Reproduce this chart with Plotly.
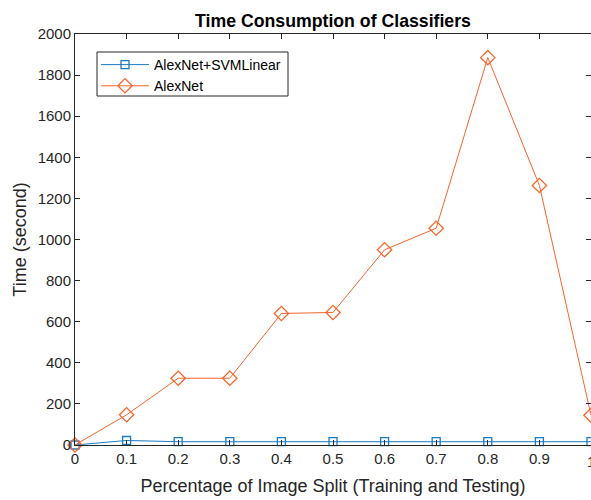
import plotly.graph_objects as go

split = [0, 0.1, 0.2, 0.3, 0.4, 0.5, 0.6, 0.7, 0.8, 0.9, 1.0]
svm_time = [0, 22, 16, 16, 16, 16, 16, 16, 16, 16, 16]
alexnet_time = [0, 147, 325, 325, 640, 645, 950, 1055, 1885, 1263, 145]
xtick_vals = [0, 0.1, 0.2, 0.3, 0.4, 0.5, 0.6, 0.7, 0.8, 0.9, 1.0]
xtick_text = ["0", "0.1", "0.2", "0.3", "0.4", "0.5", "0.6", "0.7", "0.8", "0.9", "1"]

FONT = "Liberation Sans, Arial, Helvetica, sans-serif"
AX = "#262626"
L, R, T, B = 75, 591, 34, 445
W, H = R - L, B - T

def px(x):
    return (x - L) / W

def py(y):
    return (B - y) / H

fig = go.Figure()
fig.add_trace(go.Scatter(
    x=split, y=svm_time, mode="lines+markers", name="AlexNet+SVMLinear",
    line=dict(color="#1a7bc4", width=1),
    marker=dict(symbol="square-open", size=8, color="#1a7bc4", line=dict(width=1.3)),
    cliponaxis=False,
))
fig.add_trace(go.Scatter(
    x=split, y=alexnet_time, mode="lines+markers", name="AlexNet",
    line=dict(color="#f8652a", width=1),
    marker=dict(symbol="diamond-open", size=11, color="#f8652a", line=dict(width=1.3)),
    cliponaxis=False,
))

fig.update_layout(
    width=591, height=500,
    margin=dict(l=L, r=591 - R, t=T, b=500 - B),
    paper_bgcolor="white", plot_bgcolor="white",
    font=dict(family=FONT, color=AX, size=15),
    title=dict(text="<b>Time Consumption of Classifiers</b>", x=333 / 591, xanchor="center",
               y=1 - 21 / 500, yanchor="middle", yref="container",
               font=dict(size=17.7, color="black", family=FONT)),
    showlegend=True,
    legend=dict(x=px(96), y=py(49), xanchor="left", yanchor="top",
                borderwidth=0, bgcolor="rgba(0,0,0,0)", itemwidth=48,
                font=dict(size=14, color="black"), tracegroupgap=0),
    shapes=[dict(type="rect", xref="paper", yref="paper",
                 x0=px(97), x1=px(288), y0=py(96), y1=py(52),
                 line=dict(color=AX, width=1), fillcolor="white", layer="below")],
    annotations=[dict(text="1", x=1, y=0, xref="x", yref="y", xanchor="center", yanchor="middle",
                      yshift=-(461 - 445), showarrow=False, font=dict(size=15, color=AX, family=FONT))],
)
fig.update_xaxes(
    range=[0, 1], tickvals=xtick_vals[:-1], ticktext=xtick_text[:-1],
    ticks="inside", ticklen=5, tickcolor=AX, showline=True, linecolor=AX, linewidth=1,
    mirror="ticks", showgrid=False, zeroline=False,
    tickfont=dict(size=15, color=AX),
    title=dict(text="Percentage of Image Split (Training and Testing)", font=dict(size=18, color=AX), standoff=13),
)
fig.update_yaxes(
    range=[0, 2000], dtick=200, tick0=0,
    ticks="inside", ticklen=5, tickcolor=AX, showline=True, linecolor=AX, linewidth=1,
    mirror="ticks", showgrid=False, zeroline=False,
    tickfont=dict(size=15, color=AX),
    title=dict(text="Time (second)", font=dict(size=18, color=AX), standoff=6),
)

fig.write_html("out.html")
